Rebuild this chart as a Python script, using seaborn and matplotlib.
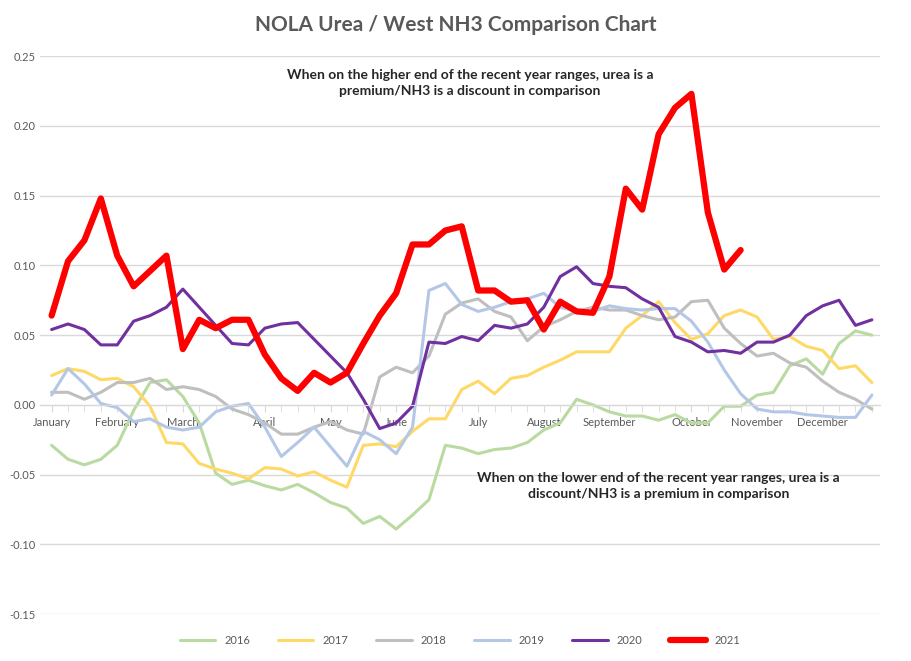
import numpy as np
import pandas as pd
import matplotlib
matplotlib.use("Agg")
import matplotlib.pyplot as plt
import seaborn as sns

# weekly spread values
y2016 = [-0.029, -0.039, -0.043, -0.039, -0.029, -0.004, 0.016, 0.018, 0.006, -0.013,
         -0.049, -0.057, -0.054, -0.058, -0.061, -0.057, -0.063, -0.070, -0.074,
         -0.085, -0.080, -0.089, -0.079, -0.068, -0.029, -0.031, -0.035, -0.032, -0.031,
         -0.027, -0.018, -0.013, 0.004, 0.000, -0.005, -0.008, -0.008, -0.011, -0.007,
         -0.013, -0.013, -0.001, -0.001, 0.007, 0.009, 0.028, 0.033, 0.022, 0.044, 0.053, 0.050]
y2017 = [0.021, 0.026, 0.024, 0.018, 0.019, 0.013, -0.001, -0.027, -0.028, -0.042,
         -0.046, -0.049, -0.053, -0.045, -0.046, -0.051, -0.048, -0.054, -0.059,
         -0.029, -0.028, -0.030, -0.019, -0.010, -0.010, 0.011, 0.017, 0.008, 0.019,
         0.021, 0.027, 0.032, 0.038, 0.038, 0.038, 0.055, 0.064, 0.074, 0.059,
         0.047, 0.051, 0.064, 0.068, 0.063, 0.047, 0.049, 0.042, 0.039, 0.026, 0.028, 0.016]
y2018 = [0.009, 0.009, 0.004, 0.009, 0.016, 0.016, 0.019, 0.011, 0.013, 0.011,
         0.006, -0.003, -0.007, -0.013, -0.021, -0.021, -0.016, -0.012, -0.018,
         -0.021, 0.020, 0.027, 0.023, 0.035, 0.065, 0.073, 0.076, 0.067, 0.063,
         0.046, 0.056, 0.061, 0.067, 0.070, 0.068, 0.068, 0.064, 0.061, 0.063,
         0.074, 0.075, 0.055, 0.044, 0.035, 0.037, 0.030, 0.027, 0.017, 0.009, 0.004, -0.003]
y2019 = [0.007, 0.026, 0.015, 0.001, -0.002, -0.012, -0.010, -0.016, -0.018, -0.016,
         -0.005, -0.001, 0.001, -0.016, -0.037, -0.027, -0.016, -0.030, -0.044,
         -0.019, -0.025, -0.035, -0.016, 0.082, 0.087, 0.072, 0.067, 0.070, 0.074,
         0.076, 0.080, 0.070, 0.067, 0.067, 0.071, 0.069, 0.068, 0.069, 0.069,
         0.060, 0.045, 0.025, 0.008, -0.003, -0.005, -0.005, -0.007, -0.008, -0.009, -0.009, 0.007]
y2020 = [0.054, 0.058, 0.054, 0.043, 0.043, 0.060, 0.064, 0.070, 0.083, 0.070,
         0.057, 0.044, 0.043, 0.055, 0.058, 0.059, 0.047, 0.035, 0.023,
         0.004, -0.017, -0.013, -0.001, 0.045, 0.044, 0.049, 0.046, 0.057, 0.055,
         0.058, 0.070, 0.092, 0.099, 0.087, 0.085, 0.084, 0.076, 0.070, 0.049,
         0.045, 0.038, 0.039, 0.037, 0.045, 0.045, 0.050, 0.064, 0.071, 0.075, 0.057, 0.061]
y2021 = [0.064, 0.103, 0.118, 0.148, 0.107, 0.085, 0.096, 0.107, 0.040, 0.061,
         0.055, 0.061, 0.061, 0.036, 0.019, 0.010, 0.023, 0.016, 0.023,
         0.044, 0.064, 0.080, 0.115, 0.115, 0.125, 0.128, 0.082, 0.082, 0.074,
         0.075, 0.054, 0.074, 0.067, 0.066, 0.092, 0.155, 0.140, 0.194, 0.213,
         0.223, 0.138, 0.097, 0.111]

months = ["January", "February", "March", "April", "May", "June", "July",
          "August", "September", "October", "November", "December"]
month_week = [0, 4, 8, 13, 17, 21, 26, 30, 34, 39, 43, 47]

series = {"2016": y2016, "2017": y2017, "2018": y2018,
          "2019": y2019, "2020": y2020, "2021": y2021}
colors = {"2016": "#B9DAA0", "2017": "#FFD966", "2018": "#BFBFBF",
          "2019": "#B4C7E7", "2020": "#7030A0", "2021": "#FF0000"}

sns.set_style("white")
plt.rcParams["font.family"] = ["Lato", "DejaVu Sans"]

fig = plt.figure(figsize=(9.12, 6.61), dpi=100)
ax = fig.add_axes([0.044, 0.071, 0.921, 0.844])

for name, vals in series.items():
    df = pd.DataFrame({"week": np.arange(len(vals)), "val": vals})
    lw = 4.5 if name == "2021" else 2.2
    sns.lineplot(data=df, x="week", y="val", ax=ax, color=colors[name],
                 linewidth=lw, label=name, zorder=3 if name == "2021" else 2)

ax.set_xlim(-0.7, 50.5)
ax.set_ylim(-0.15, 0.25)
ax.set_yticks(np.arange(-0.15, 0.251, 0.05))
ax.yaxis.set_major_formatter(matplotlib.ticker.FormatStrFormatter("%.2f"))
ax.grid(axis="y", color="#D9D9D9", linewidth=1)
ax.set_xlabel("")
ax.set_ylabel("")
for s in ["top", "right", "left"]:
    ax.spines[s].set_visible(False)
ax.spines["bottom"].set_position(("data", 0))
ax.spines["bottom"].set_color("#D9D9D9")
ax.set_xticks(month_week)
ax.set_xticklabels(months)
ax.set_xticks(np.arange(0, 51), minor=True)
ax.tick_params(axis="x", which="both", direction="out", length=5, color="#D9D9D9",
               labelsize=8, labelcolor="#595959", bottom=True)
ax.tick_params(axis="y", length=0, labelsize=8, labelcolor="#595959")

fig.text(0.5, 0.962, "NOLA Urea / West NH3 Comparison Chart", ha="center",
         va="center", fontsize=15, fontweight="bold", color="#595959")
ax.text(25.5, 0.231, "When on the higher end of the recent year ranges, urea is a\n"
        "premium/NH3 is a discount in comparison", ha="center", va="center",
        fontsize=10, fontweight="bold", linespacing=1.4)
ax.text(37.0, -0.058, "When on the lower end of the recent year ranges, urea is a\n"
        "discount/NH3 is a premium in comparison", ha="center", va="center",
        fontsize=10, fontweight="bold", linespacing=1.4)

ax.legend(loc="upper center", bbox_to_anchor=(0.5, -0.02), ncol=6, frameon=False,
          fontsize=8, labelcolor="#595959", handlelength=3.2, columnspacing=2.5)

fig.savefig("out.png", dpi=100)
